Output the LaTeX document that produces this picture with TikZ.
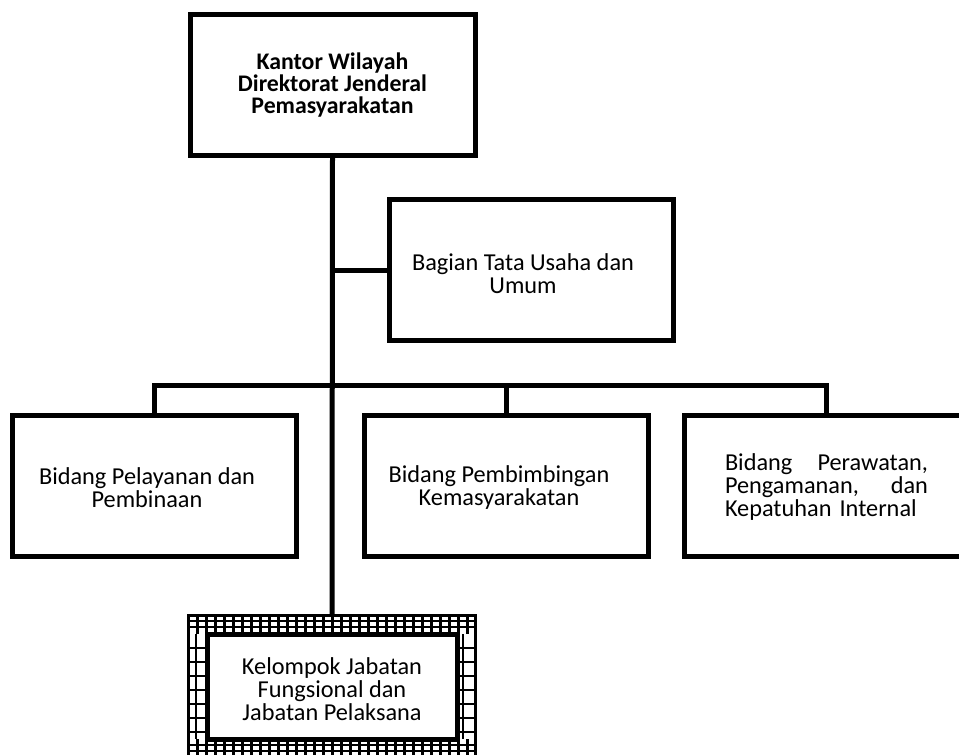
\documentclass[tikz,border=0pt]{standalone}
\usepackage{fontspec}
\setmainfont{Carlito}
\begin{document}
\begin{tikzpicture}[x=1pt,y=-1pt,
  box/.style={draw=black,line width=5pt,fill=white,rectangle,inner sep=0pt,minimum width=284pt,minimum height=141pt},
  txt/.style={inner sep=0pt,align=center,font=\fontsize{24.3}{23}\selectfont},
  conn/.style={draw=black,line width=5pt},
  gl/.style={draw=black,line width=2.3pt}]
\clip (0,0) rectangle (959,755);
\fill[white] (0,0) rectangle (959,755);
% connectors
\node[box,minimum width=285pt,minimum height=140.5pt] (top) at (332.5,84.75) {};
\node[draw=black,line width=3.5pt,rectangle,inner sep=0pt,minimum width=287pt,minimum height=150pt] (kelOuter) at (332,690.5) {};
\coordinate (j1) at (332,270.25);
\coordinate (bus) at (332,385);
\draw[conn] (top.south) -- (kelOuter.north);
% boxes
\node[box] (bag) at (531,270.25) {};
\node[box] (pel) at (154.25,485.5) {};
\node[box] (bim) at (506.5,485.5) {};
\node[box] (per) at (826.25,485.5) {};
\draw[conn] (j1) -- (bag.west);
\draw[conn,line join=miter] (pel.north) |- (bus) -| (per.north);
\draw[conn] (bim.north) -- (bim.north |- bus);
% grid frame
\foreach \x in {197.5,206.5,...,467.5} {
  \draw[gl] (\x,615.5) -- (\x,634);
  \draw[gl] (\x,739) -- (\x,765);
}
\foreach \y in {621,627,745,751,757} \draw[gl] (188.5,\y) -- (475.5,\y);
\foreach \x in {196,463} \draw[gl] (\x,634) -- (\x,739);
\foreach \y in {648,662,...,732} {
  \draw[gl] (188.5,\y) -- (207,\y);
  \draw[gl] (457,\y) -- (475.5,\y);
}
\node[draw=black,line width=3.5pt,rectangle,inner sep=0pt,minimum width=287pt,minimum height=150pt] at (kelOuter.center) {};
\node[box,line width=5pt,minimum width=250pt,minimum height=105pt] (kel) at (332,686.5) {};
% texts
\node[txt,font=\fontsize{23.8}{22}\selectfont\bfseries] (tTop) at (top.center) {Kantor Wilayah\\Direktorat Jenderal\\Pemasyarakatan};
\node[txt] (tBag) at (523,273.5) {Bagian Tata Usaha dan\\Umum};
\node[txt] (tPel) at (147,488) {Bidang Pelayanan dan\\Pembinaan};
\node[txt] (tBim) at (499,487.5) {Bidang Pembimbingan\\Kemasyarakatan};
\node[txt,align=left,text width=203pt] (tPer) at (826.5,487.5) {Bidang\hfill Perawatan,\\Pengamanan,\hfill dan\\\mbox{Kepatuhan Internal}};
\node[txt] (tKel) at (332,689) {Kelompok Jabatan\\Fungsional dan\\Jabatan Pelaksana};
\end{tikzpicture}
\end{document}
